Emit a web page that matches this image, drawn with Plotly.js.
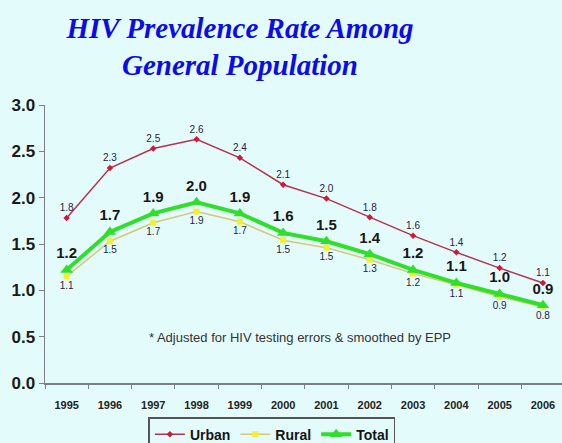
<!DOCTYPE html>
<html>
<head>
<meta charset="utf-8">
<script src="https://cdn.plot.ly/plotly-3.0.1.min.js"></script>
<style>
html,body{margin:0;padding:0;background:#e4fbfb;}
#chart{width:562px;height:443px;}
</style>
</head>
<body>
<div id="chart"></div>
<script>
const years = ['1995','1996','1997','1998','1999','2000','2001','2002','2003','2004','2005','2006'];
const urbanValues = [1.78, 2.32, 2.53, 2.63, 2.43, 2.14, 1.99, 1.79, 1.59, 1.41, 1.24, 1.08];
const ruralValues = [1.15, 1.53, 1.73, 1.85, 1.74, 1.54, 1.46, 1.33, 1.18, 1.06, 0.93, 0.82];
const totalValues = [1.22, 1.63, 1.83, 1.95, 1.83, 1.62, 1.53, 1.39, 1.22, 1.08, 0.96, 0.84];
const urbanLabels = ['1.8','2.3','2.5','2.6','2.4','2.1','2.0','1.8','1.6','1.4','1.2','1.1'];
const ruralLabels = ['1.1','1.5','1.7','1.9','1.7','1.5','1.5','1.3','1.2','1.1','0.9','0.8'];
const totalLabels = ['1.2','1.7','1.9','2.0','1.9','1.6','1.5','1.4','1.2','1.1','1.0','0.9'];
const yTicks = [0, 0.5, 1.0, 1.5, 2.0, 2.5, 3.0];
const yTickText = ['0.0','0.5','1.0','1.5','2.0','2.5','3.0'];
const noteText = '* Adjusted for HIV testing errors &amp; smoothed by EPP';

const labelColor = '#1e2248';
const sans = 'Arial, Liberation Sans, sans-serif';

const traces = [
  {
    x: years, y: urbanValues, name: 'Urban', type: 'scatter', mode: 'lines+markers+text',
    line: {color: '#b8304a', width: 1.5},
    marker: {color: '#d01838', size: 5, symbol: 'diamond'},
    text: urbanLabels, textposition: 'top center',
    textfont: {family: sans, size: 10, color: labelColor},
    cliponaxis: false
  },
  {
    x: years, y: ruralValues, name: 'Rural', type: 'scatter', mode: 'lines+markers+text',
    line: {color: '#d6c87a', width: 1.5},
    marker: {color: '#f2f030', size: 6, symbol: 'square'},
    text: ruralLabels, textposition: 'bottom center',
    textfont: {family: sans, size: 10, color: labelColor},
    cliponaxis: false
  },
  {
    x: years, y: totalValues, name: 'Total', type: 'scatter', mode: 'lines+markers+text',
    line: {color: '#2ee02a', width: 4},
    marker: {color: '#2ee02a', size: 11, symbol: 'triangle-up'},
    text: totalLabels, textposition: 'top center',
    textfont: {family: sans, size: 15, color: '#181818', weight: 'bold'},
    cliponaxis: false
  }
];

const layout = {
  width: 562, height: 443,
  paper_bgcolor: '#e4fbfb', plot_bgcolor: '#e4fbfb',
  margin: {l: 45, r: 0, t: 105, b: 60},
  title: {
    text: '<b><i>HIV Prevalence Rate Among</i></b><br><b><i>General Population</i></b>',
    font: {family: 'Liberation Serif, Times New Roman, serif', size: 29, color: '#0c0ce8'},
    x: 0.427, xanchor: 'center', xref: 'container',
    y: 0.915, yanchor: 'top', yref: 'container'
  },
  xaxis: {
    type: 'category', range: [-0.5, 11.44],
    showline: true, linecolor: '#7a7f88', linewidth: 1.5,
    ticks: 'outside', ticklen: 4, tickcolor: '#7a7f88', tickson: 'boundaries',
    showgrid: false, zeroline: false,
    tickfont: {family: sans, size: 11, color: '#222', weight: 'bold'},
    ticklabelstandoff: 11
  },
  yaxis: {
    range: [0, 3], tickvals: yTicks, ticktext: yTickText,
    showline: true, linecolor: '#7a7f88', linewidth: 1.5,
    ticks: 'outside', ticklen: 5, tickcolor: '#7a7f88',
    showgrid: false, zeroline: false,
    tickfont: {family: sans, size: 17, color: '#1a1a1a', weight: 'bold'}
  },
  showlegend: true,
  legend: {
    orientation: 'h', x: 0.2, xanchor: 'left', xref: 'paper',
    y: 0.0585, yanchor: 'top', yref: 'container',
    bgcolor: '#e4fbfb', bordercolor: '#555', borderwidth: 1.5,
    font: {family: sans, size: 14, color: '#151515', weight: 'bold'},
    itemwidth: 30, tracegroupgap: 0
  },
  annotations: [
    {
      text: noteText, xref: 'paper', yref: 'y', x: 0.493, y: 0.49,
      showarrow: false, xanchor: 'center', yanchor: 'middle',
      font: {family: sans, size: 13, color: '#333'}
    }
  ]
};

Plotly.newPlot('chart', traces, layout, {displayModeBar: false, staticPlot: true});
</script>
</body>
</html>
